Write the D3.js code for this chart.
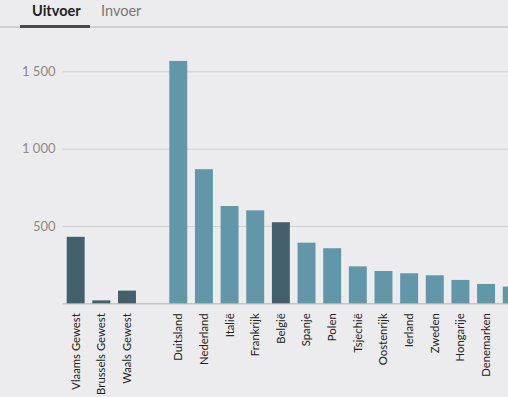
<!DOCTYPE html>
<html>
<head>
<meta charset="utf-8">
<script src="https://cdn.jsdelivr.net/npm/d3@7"></script>
<style>
  body { margin: 0; background: #ececee; font-family: Lato, "Open Sans", sans-serif; overflow: hidden; }
</style>
</head>
<body>
<script>
var svgWidth = 508;
var svgHeight = 397;

// regions, then one empty slot, then countries
var regions = ["Vlaams Gewest", "Brussels Gewest", "Waals Gewest"];
var regionValues = [430, 19, 82];
var countries = ["Duitsland", "Nederland", "Italië", "Frankrijk", "België", "Spanje", "Polen",
  "Tsjechië", "Oostenrijk", "Ierland", "Zweden", "Hongarije", "Denemarken", "Slowakije"];
var countryValues = [1567, 867, 629, 601, 524, 392, 356, 239, 209, 194, 181, 151, 125, 108];
var highlight = ["België"];
var yTicks = [500, 1000, 1500];
var tabs = ["Uitvoer", "Invoer"];

var data = regions.map((d, i) => ({ name: d, value: regionValues[i], region: true }))
  .concat(countries.map((d, i) => ({ name: d, value: countryValues[i], region: false })));

var svg = d3.select("body")
    .append("svg")
    .attr("width", svgWidth)
    .attr("height", svgHeight);

// tabs
svg.append("line")
    .attr("x1", 0).attr("x2", svgWidth)
    .attr("y1", 27).attr("y2", 27)
    .attr("stroke", "#d0d0d2").attr("stroke-width", 2);
svg.append("line")
    .attr("x1", 20).attr("x2", 90)
    .attr("y1", 26.5).attr("y2", 26.5)
    .attr("stroke", "#4a4a4a").attr("stroke-width", 3);
svg.append("text")
    .attr("x", 32).attr("y", 16)
    .attr("font-size", 14.5).attr("font-weight", "bold").attr("fill", "#222")
    .text(tabs[0]);
svg.append("text")
    .attr("x", 101).attr("y", 16)
    .attr("font-size", 14.5).attr("fill", "#777")
    .text(tabs[1]);

// x slots: regions, blank gap, countries
var slots = regions.concat(["_gap"]).concat(countries);
var step = 25.65;
var x0 = 62.85;
var x = d3.scaleBand()
    .domain(slots)
    .range([x0, x0 + slots.length * step])
    .paddingInner(0.3)
    .paddingOuter(0.15);

var y = d3.scaleLinear()
    .domain([0, 1500])
    .range([303.3, 71.3]);

// gridlines + labels
var leftAxis = d3.axisLeft(y)
    .tickValues(yTicks)
    .tickSize(-(svgWidth - 62.5))
    .tickFormat(d => d3.format(",")(d).replace(",", " "));

var yAxis = svg.append("g")
    .attr("transform", "translate(62.5,0)")
    .call(leftAxis);
yAxis.select(".domain").remove();
yAxis.selectAll(".tick line").attr("stroke", "#cfcfd1");
yAxis.selectAll(".tick text")
    .attr("x", -7)
    .attr("fill", "#8a8a8a")
    .attr("font-size", 13)
    .attr("font-family", "Lato, sans-serif");

// baseline
svg.append("line")
    .attr("x1", 62.5).attr("x2", svgWidth)
    .attr("y1", y(0) + 0.5).attr("y2", y(0) + 0.5)
    .attr("stroke", "#b5b5b8").attr("stroke-width", 1);

// bars
svg.selectAll("rect.bar")
    .data(data)
    .enter()
    .append("rect")
    .attr("class", "bar")
    .attr("x", d => x(d.name))
    .attr("width", x.bandwidth())
    .attr("y", d => y(d.value))
    .attr("height", d => y(0) - y(d.value))
    .attr("fill", d => (d.region || highlight.includes(d.name)) ? "#43606c" : "#6197a9");

// rotated labels (only for bars whose centre is inside the view)
var bottomAxis = d3.axisBottom(x)
    .tickValues(data.map(d => d.name).filter(n => x(n) + x.bandwidth() / 2 < svgWidth))
    .tickSize(0);
var xAxis = svg.append("g")
    .attr("transform", `translate(0, ${y(0)})`)
    .call(bottomAxis);
xAxis.select(".domain").remove();
xAxis.selectAll(".tick text")
    .attr("transform", "rotate(-90)")
    .attr("x", -10)
    .attr("y", 0)
    .attr("dy", "0.35em")
    .attr("text-anchor", "end")
    .attr("fill", "#222")
    .attr("font-size", 11.3)
    .attr("font-family", "Lato, sans-serif");
</script>
</body>
</html>
